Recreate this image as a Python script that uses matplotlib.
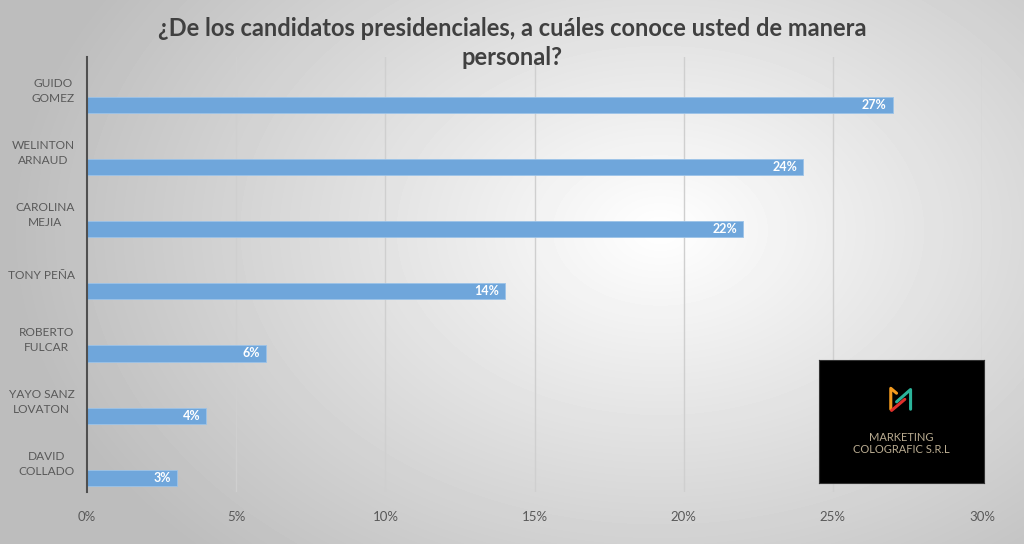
import matplotlib.pyplot as plt
import numpy as np

candidatos = ['GUIDO\nGOMEZ', 'WELINTON\nARNAUD', 'CAROLINA\nMEJIA', 'TONY PEÑA',
              'ROBERTO\nFULCAR', 'YAYO SANZ\nLOVATON', 'DAVID\nCOLLADO']
porcentajes = [27, 24, 22, 14, 6, 4, 3]
ticks = [0, 5, 10, 15, 20, 25, 30]

plt.rcParams['font.family'] = ['Lato', 'DejaVu Sans']

fig = plt.figure(figsize=(10.24, 5.44), dpi=100)

# fondo con degradado radial
bg = fig.add_axes([0, 0, 1, 1])
yy, xx = np.mgrid[0:544, 0:1024]
r = np.sqrt(((xx - 660) / 600.0) ** 2 + ((yy - 230) / 420.0) ** 2)
shade = np.clip(1.0 - 0.24 * r, 0.74, 1.0)
bg.imshow(shade, cmap='gray', vmin=0, vmax=1, aspect='auto', extent=[0, 1, 0, 1])
bg.axis('off')

ax = fig.add_axes([0.085, 0.0956, 0.874, 0.7994])
ax.patch.set_alpha(0)
pos = np.arange(len(candidatos))
ax.barh(pos + 0.27, porcentajes, height=0.26, color='#6FA6DB', edgecolor='#9cc3e8', linewidth=0.6, zorder=3)
for p, v in zip(pos, porcentajes):
    ax.text(v - 0.2, p + 0.27, f'{v}%', color='white', fontsize=9, fontweight='bold',
            ha='right', va='center', zorder=4)

ax.set_ylim(len(candidatos) - 0.5, -0.5)
ax.set_xlim(0, 30)
ax.set_yticks(pos)
ax.set_yticklabels(candidatos, fontsize=8.6, color='#595959', linespacing=1.45,
                   multialignment='center')
ax.set_xticks(ticks)
ax.set_xticklabels([f'{t}%' for t in ticks], fontsize=9.5, color='#595959')
ax.tick_params(length=0, axis='y', pad=9)
ax.tick_params(length=0, axis='x', pad=14)
ax.grid(axis='x', color='#cfcfcf', linewidth=1, zorder=0)
for s in ['top', 'right', 'bottom']:
    ax.spines[s].set_visible(False)
ax.spines['left'].set_color('#505050')
ax.spines['left'].set_linewidth(1.5)
ax.spines['left'].set_zorder(5)

fig.text(0.5, 0.948, '¿De los candidatos presidenciales, a cuáles conoce usted de manera',
         ha='center', va='center', fontsize=17, fontweight='bold', color='#404040')
fig.text(0.5, 0.894, 'personal?', ha='center', va='center', fontsize=17,
         fontweight='bold', color='#404040')

# logo
logo = fig.add_axes([819 / 1024, (544 - 483) / 544, 165 / 1024, 123 / 544])
logo.set_facecolor('black')
logo.set_xlim(0, 1)
logo.set_ylim(0, 1)
logo.set_xticks([])
logo.set_yticks([])
for s in logo.spines.values():
    s.set_color('#333333')
logo.plot([0.435, 0.435, 0.47], [0.60, 0.77, 0.73], color='#f39a1e', lw=2.2, solid_capstyle='round')
logo.plot([0.47, 0.555, 0.555], [0.66, 0.76, 0.60], color='#2bb39a', lw=2.2, solid_capstyle='round')
logo.plot([0.44, 0.52], [0.59, 0.68], color='#e0302c', lw=2.2, solid_capstyle='round')
logo.text(0.5, 0.37, 'MARKETING', color='#b9ab90', fontsize=8, ha='center', va='center')
logo.text(0.5, 0.27, 'COLOGRAFIC S.R.L', color='#b9ab90', fontsize=8, ha='center', va='center')

fig.savefig('out.png', dpi=100)
